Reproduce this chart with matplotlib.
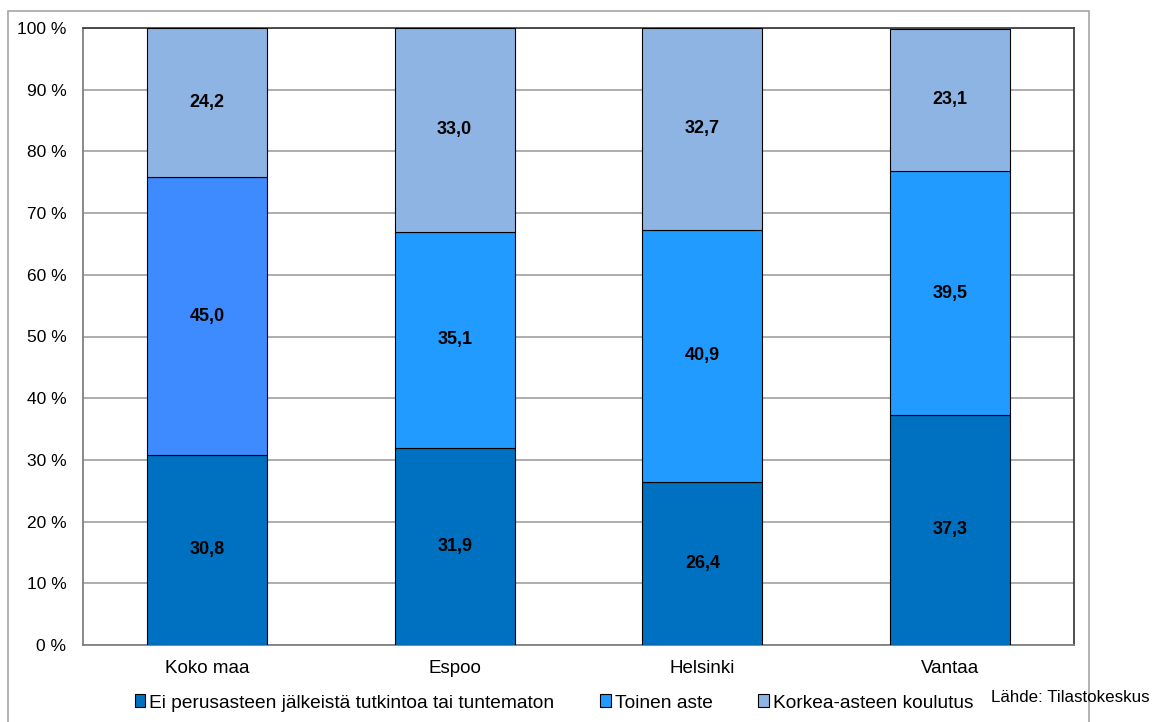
import numpy as np
import matplotlib.pyplot as plt
from matplotlib.patches import Rectangle

plt.rcParams['font.family'] = ['Liberation Sans', 'DejaVu Sans']

alueet = ["Koko maa", "Espoo", "Helsinki", "Vantaa"]
ei_perus = [30.8, 31.9, 26.4, 37.3]
toinen = [45.0, 35.1, 40.9, 39.5]
korkea = [24.2, 33.0, 32.7, 23.1]
sarjat = ["Ei perusasteen jälkeistä tutkintoa tai tuntematon", "Toinen aste", "Korkea-asteen koulutus"]

c_ei = "#0070c0"
c_toinen = "#219bff"
c_toinen_koko = "#3d8bff"
c_korkea = "#8eb4e3"

fig = plt.figure(figsize=(11.52, 7.22), dpi=100)
fig.patches.append(Rectangle((8/1152, -0.01), (1089-8)/1152, 1 - 11/722 + 0.01,
                             transform=fig.transFigure, fill=False, ec="#a6a6a6", lw=1.2))
ax = fig.add_axes([83/1152, 1-645/722, (1074-83)/1152, (645-28)/722])

x = np.arange(len(alueet))
w = 0.485
ei = np.array(ei_perus)
to = np.array(toinen)
ko = np.array(korkea)
mid_cols = [c_toinen_koko] + [c_toinen]*3

ax.bar(x, ei, w, color=c_ei, edgecolor="black", lw=0.8, zorder=3)
ax.bar(x, to, w, bottom=ei, color=mid_cols, edgecolor="black", lw=0.8, zorder=3)
ax.bar(x, ko, w, bottom=ei+to, color=c_korkea, edgecolor="black", lw=0.8, zorder=3)

def fmt(v):
    return f"{v:.1f}".replace(".", ",")

for i in range(len(alueet)):
    for y, v in [(ei[i]/2, ei[i]), (ei[i]+to[i]/2, to[i]), (ei[i]+to[i]+ko[i]/2, ko[i])]:
        ax.text(x[i], y, fmt(v), ha="center", va="center",
                fontsize=13, fontweight="bold", zorder=4)

ax.set_xlim(-0.5, len(alueet)-0.5)
ax.set_ylim(0, 100)
ax.set_yticks(np.arange(0, 101, 10))
ax.set_yticklabels([f"{v} %" for v in range(0, 101, 10)], fontsize=12.5)
ax.set_xticks(x)
ax.set_xticklabels(alueet, fontsize=13.5)
ax.tick_params(axis="y", length=0, pad=12)
ax.tick_params(axis="x", length=0, pad=11)
ax.yaxis.grid(True, color="#a0a0a0", lw=1.2, zorder=0)
ax.set_axisbelow(True)
for s in ["left", "bottom"]:
    ax.spines[s].set_color("#808080")
    ax.spines[s].set_linewidth(1.3)
for s in ["top", "right"]:
    ax.spines[s].set_color("#404040")
    ax.spines[s].set_linewidth(1.3)

handles = [Rectangle((0, 0), 1, 1, fc=c, ec="black", lw=0.8) for c in [c_ei, c_toinen, c_korkea]]
fig.legend(handles, sarjat, loc="center", bbox_to_anchor=(554/1152, 1-703/722), ncol=3,
           frameon=False, fontsize=13.8, handlelength=0.55, handleheight=0.65,
           handletextpad=0.2, columnspacing=2.4)
fig.text(1150/1152, 1-697/722, "Lähde: Tilastokeskus", ha="right", va="center", fontsize=12.2)

fig.savefig("out.png", dpi=100)
